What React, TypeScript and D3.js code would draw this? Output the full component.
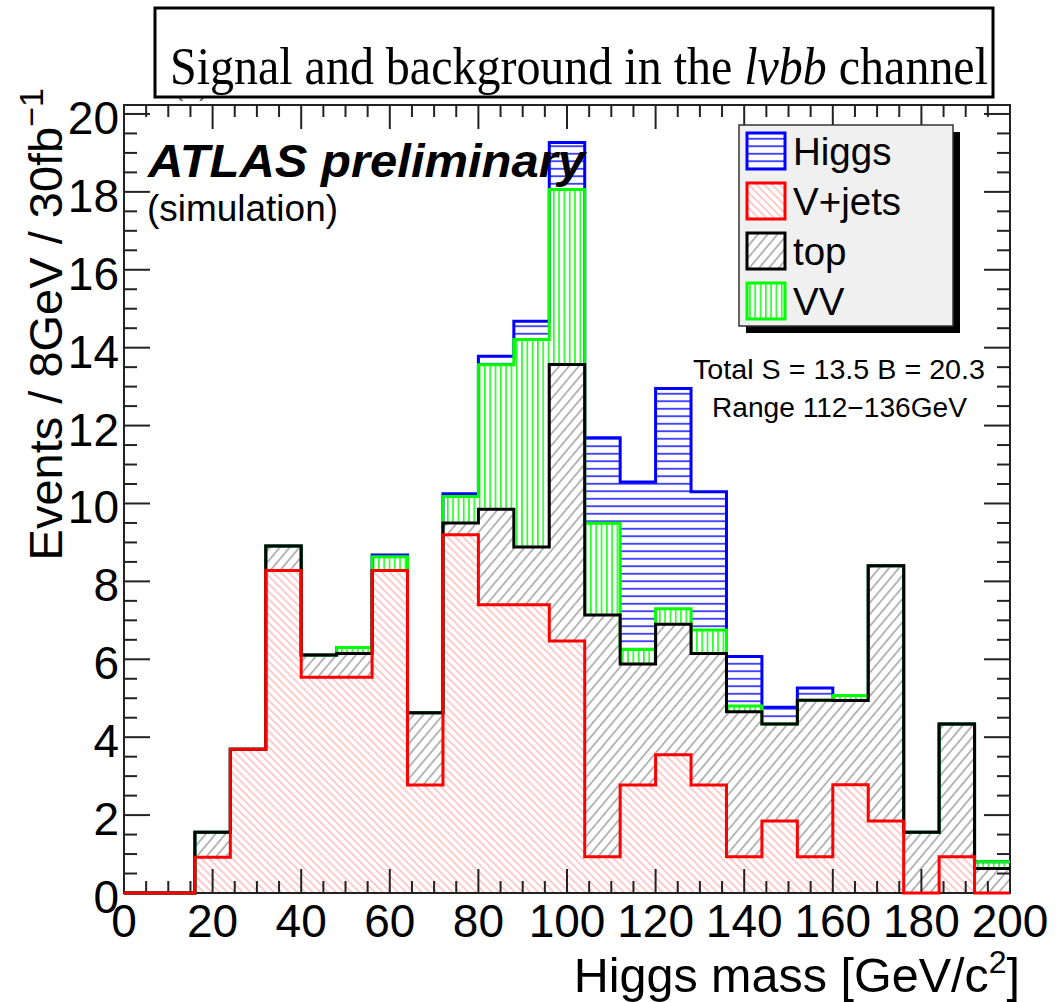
import React from 'react';
import * as d3 from 'd3';

// Lower edges of the 8 GeV mass bins
const binLow = [0, 8, 16, 24, 32, 40, 48, 56, 64, 72, 80, 88, 96, 104, 112, 120, 128, 136, 144, 152, 160, 168, 176, 184, 192];
const BIN_W = 8;

// Events per bin for each stacked sample (bottom to top)
const vjets = [0, 0, 0.92, 3.69, 8.28, 5.54, 5.54, 8.28, 2.77, 9.2, 7.4, 7.4, 6.47, 0.93, 2.77, 3.55, 2.77, 0.93, 1.85, 0.93, 2.78, 1.85, 0, 0.93, 0];
const topq = [0, 0, 0.64, 0, 0.63, 0.57, 0.61, 0, 1.86, 0.3, 2.45, 1.48, 7.1, 6.21, 3.11, 3.35, 3.38, 3.72, 2.49, 4.02, 2.16, 6.55, 1.56, 3.41, 0.63];
const diboson = [0, 0, 0, 0, 0, 0, 0.15, 0.35, 0, 0.68, 3.71, 5.33, 4.49, 2.35, 0.37, 0.4, 0.6, 0.15, 0, 0, 0.13, 0, 0, 0, 0.17];
const higgs = [0, 0, 0, 0, 0, 0, 0, 0.05, 0, 0.07, 0.22, 0.47, 1.21, 2.2, 4.3, 5.65, 3.55, 1.27, 0.43, 0.31, 0, 0, 0, 0, 0];

const xTicks = [0, 20, 40, 60, 80, 100, 120, 140, 160, 180, 200];
const yTicks = [0, 2, 4, 6, 8, 10, 12, 14, 16, 18, 20];

const legendItems = [
  { label: 'Higgs', color: '#0000ff', pat: 'hatchHiggs' },
  { label: 'V+jets', color: '#ff0000', pat: 'hatchV' },
  { label: 'top', color: '#000000', pat: 'hatchTop' },
  { label: 'VV', color: '#00ff00', pat: 'hatchVV' },
];

const SANS = '"Liberation Sans", Arial, Helvetica, sans-serif';
const SERIF = '"Liberation Serif", "Times New Roman", serif';

export default function App() {
  const W = 1058;
  const H = 1002;
  const x = d3.scaleLinear().domain([0, 200]).range([124, 1010]);
  const y = d3.scaleLinear().domain([0, 20.23]).range([893, 105]);

  // cumulative stacks
  const c1 = vjets.map((v) => v);
  const c2 = c1.map((v, i) => v + topq[i]);
  const c3 = c2.map((v, i) => v + diboson[i]);
  const c4 = c3.map((v, i) => v + higgs[i]);

  const pts = (vals: number[]) => {
    const p: [number, number][] = vals.map((v, i) => [binLow[i], v]);
    p.push([binLow[binLow.length - 1] + BIN_W, vals[vals.length - 1]]);
    return p;
  };

  const area = d3
    .area<[number, number]>()
    .x((d) => x(d[0]))
    .y0(y(0))
    .y1((d) => y(d[1]))
    .curve(d3.curveStepAfter);
  const line = d3
    .line<[number, number]>()
    .x((d) => x(d[0]))
    .y((d) => y(d[1]))
    .curve(d3.curveStepAfter);

  const stacks = [
    { vals: c4, color: '#0000ff', pat: 'hatchHiggs' },
    { vals: c3, color: '#00ff00', pat: 'hatchVV' },
    { vals: c2, color: '#000000', pat: 'hatchTop' },
    { vals: c1, color: '#ff0000', pat: 'hatchV' },
  ];

  const [x0, x1] = x.range();
  const [yb, yt] = y.range();
  const axisColor = '#222';

  const yMinor = d3.range(0, 20.01, 0.5).filter((v) => v % 2 !== 0);
  const xMinor = d3.range(0, 200.01, 5).filter((v) => v % 20 !== 0);

  return (
    <svg width={W} height={H} style={{ position: 'absolute', left: 0, top: 0, background: '#fff' }}>
      <defs>
        <pattern id="hatchHiggs" patternUnits="userSpaceOnUse" width={10} height={7.5}>
          <rect width={10} height={7.5} fill="#fff" />
          <line x1={0} x2={10} y1={3.75} y2={3.75} stroke="#0000ff" strokeWidth={1.4} />
        </pattern>
        <pattern id="hatchVV" patternUnits="userSpaceOnUse" width={5.3} height={10}>
          <rect width={5.3} height={10} fill="#fff" />
          <line x1={2.6} x2={2.6} y1={0} y2={10} stroke="#00ff00" strokeWidth={1.4} />
        </pattern>
        <pattern id="hatchTop" patternUnits="userSpaceOnUse" width={7.5} height={7.5} patternTransform="rotate(40)">
          <rect width={7.5} height={7.5} fill="#fff" />
          <line x1={3.75} x2={3.75} y1={0} y2={7.5} stroke="#707070" strokeWidth={1} />
        </pattern>
        <pattern id="hatchV" patternUnits="userSpaceOnUse" width={5.5} height={5.5} patternTransform="rotate(-45)">
          <rect width={5.5} height={5.5} fill="#fff" />
          <line x1={2.75} x2={2.75} y1={0} y2={5.5} stroke="#ff9a9a" strokeWidth={1} />
        </pattern>
      </defs>

      {/* panel label, mostly covered by the title box */}
      <text x={174} y={95} fontFamily={SANS} fontSize={28} fill="#666">(a)</text>

      {/* stacked hatched bands */}
      {stacks.map((s) => (
        <path key={'a' + s.pat} d={area(pts(s.vals)) || ''} fill={`url(#${s.pat})`} />
      ))}

      {/* frame */}
      <rect x={x0} y={yt} width={x1 - x0} height={yb - yt} fill="none" stroke={axisColor} strokeWidth={2} />

      {/* y ticks, left and right */}
      {yTicks.map((t) => (
        <g key={'yt' + t}>
          <line x1={x0} x2={x0 + 26} y1={y(t)} y2={y(t)} stroke={axisColor} strokeWidth={2} />
          <line x1={x1} x2={x1 - 26} y1={y(t)} y2={y(t)} stroke={axisColor} strokeWidth={2} />
        </g>
      ))}
      {yMinor.map((t) => (
        <g key={'ym' + t}>
          <line x1={x0} x2={x0 + 13} y1={y(t)} y2={y(t)} stroke={axisColor} strokeWidth={2} />
          <line x1={x1} x2={x1 - 13} y1={y(t)} y2={y(t)} stroke={axisColor} strokeWidth={2} />
        </g>
      ))}
      {/* x ticks, bottom and top */}
      {xTicks.map((t) => (
        <g key={'xt' + t}>
          <line x1={x(t)} x2={x(t)} y1={yb} y2={yb - 24} stroke={axisColor} strokeWidth={2} />
          <line x1={x(t)} x2={x(t)} y1={yt} y2={yt + 24} stroke={axisColor} strokeWidth={2} />
        </g>
      ))}
      {xMinor.map((t) => (
        <g key={'xm' + t}>
          <line x1={x(t)} x2={x(t)} y1={yb} y2={yb - 12} stroke={axisColor} strokeWidth={2} />
          <line x1={x(t)} x2={x(t)} y1={yt} y2={yt + 12} stroke={axisColor} strokeWidth={2} />
        </g>
      ))}

      {/* histogram outlines */}
      {stacks.map((s) => (
        <path key={'l' + s.pat} d={line(pts(s.vals)) || ''} fill="none" stroke={s.color} strokeWidth={3} />
      ))}

      {/* tick labels */}
      {yTicks.map((t) => (
        <text key={'yl' + t} x={119} y={y(t) + 20} textAnchor="end" fontFamily={SANS} fontSize={46} fill="#000">
          {t}
        </text>
      ))}
      {xTicks.map((t) => (
        <text key={'xl' + t} x={x(t)} y={937} textAnchor="middle" fontFamily={SANS} fontSize={46} fill="#000">
          {t}
        </text>
      ))}

      {/* axis titles */}
      <text x={1020} y={992} textAnchor="end" fontFamily={SANS} fontSize={48.5} fill="#000">
        Higgs mass [GeV/c
        <tspan dy={-19} fontSize={32}>2</tspan>
        <tspan dy={19}>]</tspan>
      </text>
      <text transform="translate(62,88) rotate(-90)" textAnchor="end" fontFamily={SANS} fontSize={47} fill="#000">
        Events / 8GeV / 30fb
        <tspan dy={-19} fontSize={34}>−1</tspan>
      </text>

      {/* labels inside the frame */}
      <text x={148} y={177} fontFamily={SANS} fontSize={46} fontWeight="bold" fontStyle="italic" fill="#000"
        textLength={437} lengthAdjust="spacingAndGlyphs">
        ATLAS preliminary
      </text>
      <text x={147} y={221} fontFamily={SANS} fontSize={36} fill="#000" textLength={191} lengthAdjust="spacingAndGlyphs">
        (simulation)
      </text>
      <text x={693} y={379} fontFamily={SANS} fontSize={27} fill="#000" textLength={292} lengthAdjust="spacingAndGlyphs">
        Total S = 13.5 B = 20.3
      </text>
      <text x={712} y={417} fontFamily={SANS} fontSize={27} fill="#000" textLength={255} lengthAdjust="spacingAndGlyphs">
        Range 112−136GeV
      </text>

      {/* legend */}
      <rect x={746} y={132} width={214} height={201} fill="#000" />
      <rect x={739} y={125} width={214} height={201} fill="#f0f0f0" stroke="#333" strokeWidth={1.5} />
      {legendItems.map((it, i) => {
        const cy = 151 + i * 50;
        return (
          <g key={it.label}>
            <rect x={747} y={cy - 18} width={38} height={36} fill={`url(#${it.pat})`} stroke={it.color} strokeWidth={3} />
            <text x={793} y={cy + 14} fontFamily={SANS} fontSize={38.5} fill="#000">
              {it.label}
            </text>
          </g>
        );
      })}

      {/* title box */}
      <rect x={155} y={8} width={838} height={89} fill="#fff" stroke="#000" strokeWidth={3} />
      <text x={170} y={84} fontFamily={SERIF} fontSize={52} fill="#000" textLength={818} lengthAdjust="spacingAndGlyphs">
        Signal and background in the <tspan fontStyle="italic">lνbb</tspan> channel
      </text>
    </svg>
  );
}
